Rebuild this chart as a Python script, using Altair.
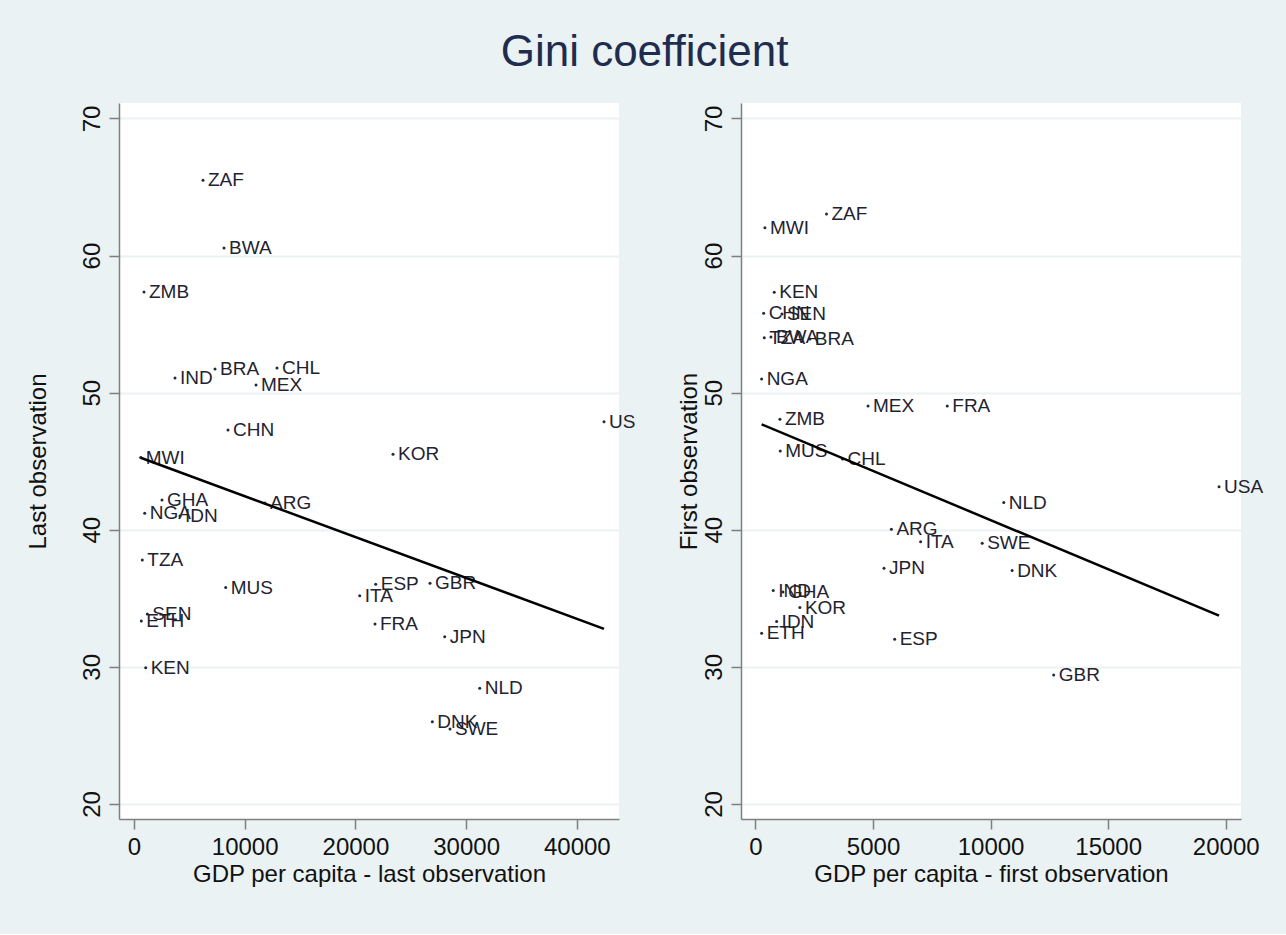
import altair as alt
import pandas as pd

FONT = "Liberation Sans"

# ---- Left panel: last observation ----
codes_last = ["ZAF", "BWA", "ZMB", "IND", "BRA", "CHL", "MEX", "CHN", "MWI", "GHA",
              "NGA", "IDN", "ARG", "KOR", "USA", "ESP", "GBR", "ITA", "FRA", "JPN",
              "NLD", "DNK", "SWE", "TZA", "MUS", "SEN", "ETH", "KEN"]
gdp_last = [6233, 8130, 903, 3704, 7317, 12918, 11021, 8491, 605, 2529,
            967, 4155, 11834, 23397, 42457, 21834, 26739, 20389, 21771, 28067,
            31229, 26947, 28545, 750, 8284, 1201, 659, 1057]
gini_last = [65.5, 60.55, 57.35, 51.07, 51.73, 51.8, 50.56, 47.28, 45.27, 42.17,
             41.2, 41.0, 41.95, 45.5, 47.88, 36.02, 36.1, 35.19, 33.13, 32.2,
             28.44, 26.0, 25.47, 37.8, 35.78, 33.86, 33.35, 29.94]

# ---- Right panel: first observation ----
codes_first = ["ZAF", "MWI", "KEN", "CHN", "SEN", "TZA", "BWA", "BRA", "NGA", "MEX",
               "FRA", "ZMB", "MUS", "CHL", "NLD", "USA", "ARG", "ITA", "SWE", "JPN",
               "DNK", "IND", "GHA", "KOR", "IDN", "ETH", "ESP", "GBR"]
gdp_first = [3022, 403, 798, 348, 1125, 374, 658, 2313, 263, 4788,
             8158, 1040, 1053, 3701, 10560, 19716, 5781, 7025, 9643, 5467,
             10917, 756, 1167, 1889, 900, 263, 5921, 12683]
gini_first = [63.03, 62.03, 57.32, 55.79, 55.74, 54.01, 54.06, 53.92, 51.0, 49.03,
              49.03, 48.06, 45.75, 45.16, 41.98, 43.14, 40.04, 39.13, 39.02, 37.19,
              37.02, 35.56, 35.46, 34.32, 33.3, 32.45, 32.01, 29.41]

y_ticks = [20, 30, 40, 50, 60, 70]
x_ticks_last = [0, 10000, 20000, 30000, 40000]
x_ticks_first = [0, 5000, 10000, 15000, 20000]

AXIS_GRAY = "#7f7f7f"
TEXT = "#111111"
LABEL = "#1f2330"
BG = "#EAF2F3"


def panel(codes, gdp, gini, xdom, xticks, xtitle, ytitle, ytitle_pad, cut_edge_label):
    df = pd.DataFrame({"code": codes, "gdp": gdp, "gini": gini})
    base = alt.Chart(df)
    x = alt.X("gdp:Q",
              scale=alt.Scale(domain=xdom, nice=False, zero=False),
              axis=alt.Axis(values=xticks, title=xtitle, format="d", grid=False,
                            labelFlush=False, labelOverlap=False,
                            labelFontSize=24, labelFont=FONT, labelColor=TEXT,
                            labelPadding=6, labelBaseline="top",
                            titleFontSize=24, titleFont=FONT, titleColor=TEXT,
                            titleFontWeight="normal", titlePadding=3,
                            domainColor=AXIS_GRAY, domainWidth=1.5,
                            tickColor=AXIS_GRAY, tickWidth=1.5, tickSize=10))
    y = alt.Y("gini:Q",
              scale=alt.Scale(domain=[18.9, 71.13], nice=False, zero=False),
              axis=alt.Axis(values=y_ticks, title=ytitle, grid=True,
                            gridColor=BG, gridWidth=2,
                            labelAngle=-90, labelAlign="center", labelBaseline="alphabetic",
                            labelFlush=False, labelOverlap=False,
                            labelFontSize=24, labelFont=FONT, labelColor=TEXT,
                            labelPadding=10,
                            titleFontSize=24, titleFont=FONT, titleColor=TEXT,
                            titleFontWeight="normal", titlePadding=ytitle_pad,
                            domainColor=AXIS_GRAY, domainWidth=1.5,
                            tickColor=AXIS_GRAY, tickWidth=1.5, tickSize=10))
    pts = base.mark_point(filled=True, size=9, color="#1e2a3c", opacity=1).encode(x=x, y=y)
    text_style = dict(align="left", baseline="middle", dx=5, fontSize=19,
                      font=FONT, color=LABEL)
    if cut_edge_label:
        labels = base.transform_filter("datum.code != 'USA'").mark_text(
            **text_style).encode(x=x, y=y, text="code:N")
        # label at the right edge is cut off by the neighbouring panel
        edge = base.transform_filter("datum.code == 'USA'").mark_text(
            limit=31, ellipsis="\u200b", **text_style).encode(x=x, y=y, text="code:N")
        text_layers = [labels, edge]
    else:
        text_layers = [base.mark_text(**text_style).encode(x=x, y=y, text="code:N")]
    fit = base.transform_regression("gdp", "gini").mark_line(
        color="black", strokeWidth=2.5, clip=True).encode(x=x, y=y)
    return alt.layer(pts, *text_layers, fit).properties(width=500, height=716)


left = panel(codes_last, gdp_last, gini_last, [-1355, 43810], x_ticks_last,
             "GDP per capita - last observation", "Last observation", 30, True)
right = panel(codes_first, gdp_first, gini_first, [-615, 20650], x_ticks_first,
              "GDP per capita - first observation", "First observation", 1, False)

chart = alt.hconcat(left, right, spacing=41).properties(
    title=alt.TitleParams("Gini coefficient", fontSize=44, font=FONT, color="#1f2c4f",
                          fontWeight="normal", anchor="middle", offset=28),
    padding={"left": 26, "top": 31, "right": 22, "bottom": 48},
    background=BG,
).configure_view(fill="white", strokeWidth=0)

chart.save("out.html", embed_options={"renderer": "svg", "actions": False})
